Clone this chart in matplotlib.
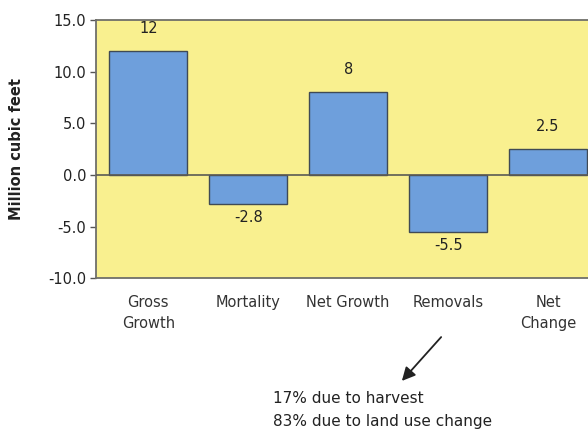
import numpy as np
import matplotlib.pyplot as plt

plt.rcParams['font.family'] = ['DejaVu Sans']

categories = ['Gross\nGrowth', 'Mortality', 'Net Growth', 'Removals', 'Net\nChange']
values = [12, -2.8, 8, -5.5, 2.5]
value_labels = ['12', '-2.8', '8', '-5.5', '2.5']

fig = plt.figure(figsize=(5.88, 4.36), dpi=100)
ax = fig.add_axes([0.163, 0.362, 0.837, 0.592])
ax.set_facecolor('#f9f08f')

x = np.arange(len(categories))
ax.bar(x, values, width=0.78, color='#6e9fdc', edgecolor='#3f4a55', linewidth=1.0, zorder=2)
ax.axhline(0, color='#5a5a55', linewidth=1.2, zorder=3)

for xi, v, lab in zip(x, values, value_labels):
    if v >= 0:
        ax.text(xi, v + 2.2, lab, ha='center', va='center', fontsize=10.5, color='#222222')
    else:
        ax.text(xi, v - 1.35, lab, ha='center', va='center', fontsize=10.5, color='#222222')

ax.set_ylim(-10, 15)
ax.set_xlim(-0.525, 4.4)
ax.set_yticks([-10, -5, 0, 5, 10, 15])
ax.set_yticklabels(['-10.0', '-5.0', '0.0', '5.0', '10.0', '15.0'], fontsize=10.5, color='#222222')
ax.set_xticks(x)
ax.set_xticklabels(categories, fontsize=10.5, color='#333333', linespacing=1.55, va='top')
ax.tick_params(axis='x', length=0, pad=12)
ax.tick_params(axis='y', length=4, width=1, color='#555555', pad=3)

for side in ['top', 'bottom', 'left']:
    ax.spines[side].set_color('#6f6f6a')
    ax.spines[side].set_linewidth(1.3)
ax.spines['right'].set_visible(False)

ax.set_ylabel('Million cubic feet', fontsize=10.5, fontweight='bold', color='#222222', labelpad=17)

# note about removals
fig.text(273 / 588, 1 - 398 / 436, '17% due to harvest', fontsize=11, color='#222222', va='center')
fig.text(273 / 588, 1 - 421 / 436, '83% due to land use change', fontsize=11, color='#222222', va='center')
ax.annotate('', xy=(400 / 588, 1 - 383 / 436), xytext=(443 / 588, 1 - 335 / 436),
            xycoords='figure fraction', textcoords='figure fraction',
            arrowprops=dict(arrowstyle='-|>', color='#222222', lw=1.3, mutation_scale=20))

fig.savefig('out.png', dpi=100)
